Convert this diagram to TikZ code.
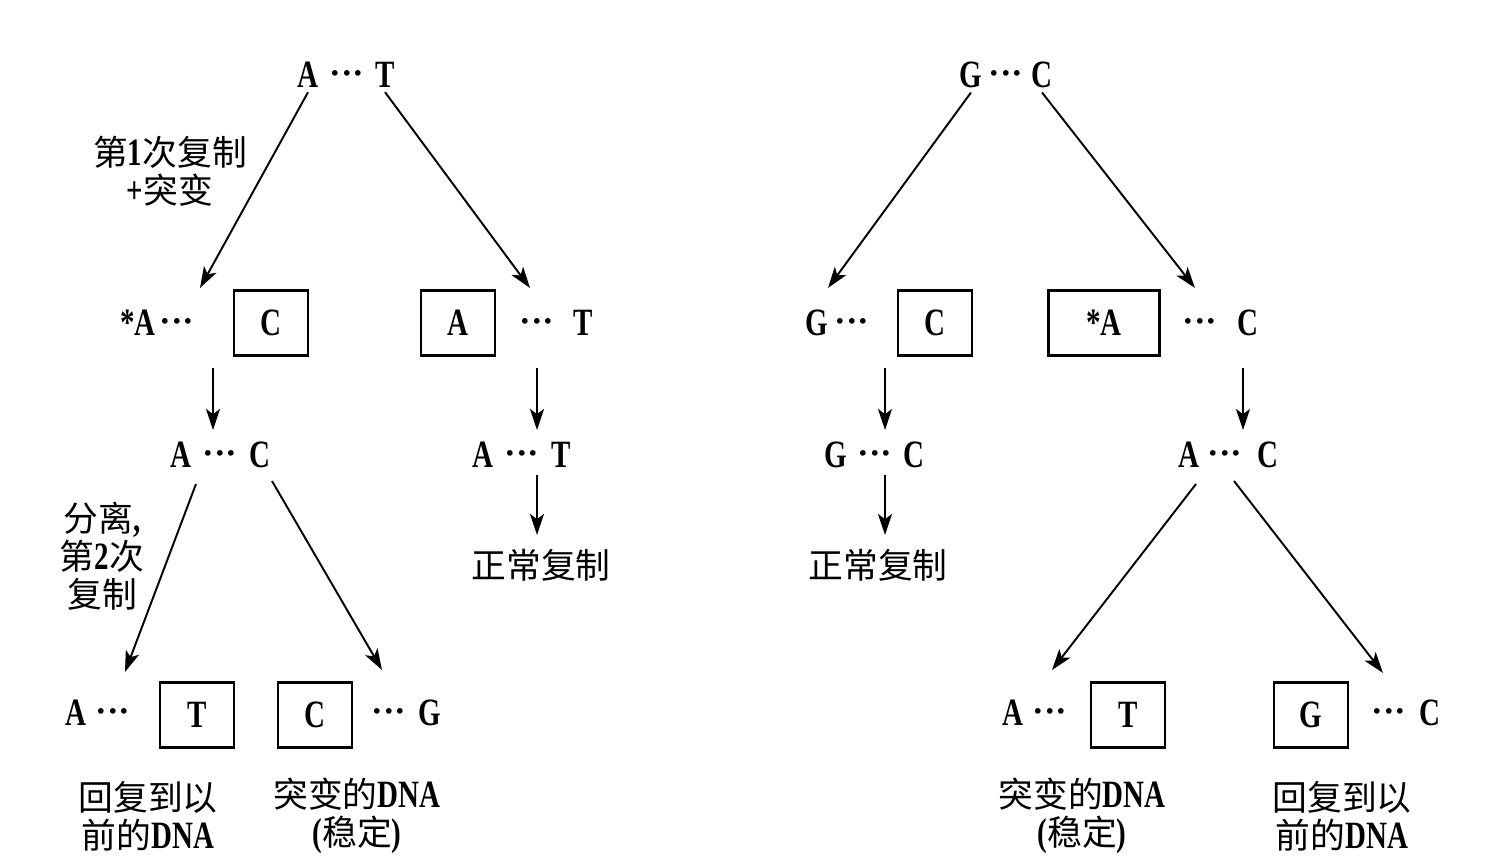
\documentclass[tikz,border=0pt]{standalone}
\usepackage{fontspec}
\setmainfont{Liberation Serif}[FakeStretch=0.75]
\newfontfamily\zhfont{Noto Sans CJK SC}[Scale=0.9]
\newcommand\zh[1]{{\zhfont\mdseries #1}}
\newcommand\pdots{{\boldmath${\cdot}{\cdot}{\cdot}$}}
\usetikzlibrary{arrows.meta}

\begin{document}
\begin{tikzpicture}[->,>={Stealth[length=12pt,width=8pt,inset=3pt]},line width=1.1pt,
   x=0.02cm,y=-0.02cm,
   base/.style={font=\fontsize{22}{26}\selectfont\bfseries,inner sep=2pt},
   box/.style={base,draw,line width=1.3pt,minimum width=1.48cm,minimum height=1.3cm},
   lbl/.style={font=\fontsize{22}{21.5}\selectfont\bfseries,align=center,inner sep=0pt}]
   \useasboundingbox (0,0) rectangle (1500,868);

   % left tree
   \node[base] (aA) at (308,75)  {A};
   \node[base] (aD) at (347,74)  {\pdots};
   \node[base] (aT) at (385,75)  {T};
   \node[lbl]  (aL) at (170,171) {\zh{第}1\zh{次复制}\\+\zh{突变}};

   \node[base] (bA) at (138,323) {*A};
   \node[base] (bD) at (177,322) {\pdots};
   \node[box]  (bC) at (271,323) {C};
   \node[box]  (cA) at (458,323) {A};
   \node[base] (cD) at (537,322) {\pdots};
   \node[base] (cT) at (583,323) {T};

   \node[base] (dA) at (181,455) {A};
   \node[base] (dD) at (220,454) {\pdots};
   \node[base] (dC) at (260,455) {C};
   \node[base] (eA) at (483,455) {A};
   \node[base] (eD) at (522,454) {\pdots};
   \node[base] (eT) at (561,455) {T};
   \node[lbl]  (eN) at (541,565) {\zh{正常复制}};
   \node[lbl]  (dL) at (102,556) {\zh{分离},\\\zh{第}2\zh{次}\\\zh{复制}};

   \node[base] (fA) at (76,713)  {A};
   \node[base] (fD) at (113,712) {\pdots};
   \node[box]  (fT) at (197,715) {T};
   \node[box]  (gC) at (315,715) {C};
   \node[base] (gD) at (389,712) {\pdots};
   \node[base] (gG) at (430,713) {G};
   \node[lbl]  (fL) at (148,816) {\zh{回复到以}\\\zh{前的}DNA};
   \node[lbl]  (gL) at (357,816) {\zh{突变的}DNA\\(\zh{稳定})};

   \coordinate (p1) at (200,288);
   \coordinate (p2) at (530,288);
   \coordinate (p3) at (213,368);
   \coordinate (p4) at (213,430);
   \coordinate (p5) at (537,368);
   \coordinate (p6) at (537,430);
   \coordinate (p7) at (537,475);
   \coordinate (p8) at (537,535);
   \coordinate (p9) at (196,484);
   \coordinate (p10) at (125,672);
   \coordinate (p11) at (272,481);
   \coordinate (p12) at (382,670);

   \path (aA.south) edge (p1);
   \path (aT.south) edge (p2);
   \path (p3) edge (p4);
   \path (p5) edge (p6);
   \path (p7) edge (p8);
   \path (p9) edge (p10);
   \path (p11) edge (p12);

   % right tree
   \node[base] (hG) at (971,75)  {G};
   \node[base] (hD) at (1006,74) {\pdots};
   \node[base] (hC) at (1042,75) {C};

   \node[base] (iG) at (817,323)  {G};
   \node[base] (iD) at (852,322)  {\pdots};
   \node[box]  (iC) at (935,323)  {C};
   \node[box,minimum width=2.22cm] (jA) at (1104,323) {*A};
   \node[base] (jD) at (1200,322) {\pdots};
   \node[base] (jC) at (1248,323) {C};

   \node[base] (kG) at (836,455)  {G};
   \node[base] (kD) at (875,454)  {\pdots};
   \node[base] (kC) at (914,455)  {C};
   \node[base] (mA) at (1189,455) {A};
   \node[base] (mD) at (1225,454) {\pdots};
   \node[base] (mC) at (1268,455) {C};
   \node[lbl]  (kN) at (878,565)  {\zh{正常复制}};

   \node[base] (nA) at (1013,713) {A};
   \node[base] (nD) at (1050,712) {\pdots};
   \node[box]  (nT) at (1128,715) {T};
   \node[box]  (oG) at (1311,715) {G};
   \node[base] (oD) at (1389,712) {\pdots};
   \node[base] (oC) at (1430,713) {C};
   \node[lbl]  (nL) at (1082,816) {\zh{突变的}DNA\\(\zh{稳定})};
   \node[lbl]  (oL) at (1342,816) {\zh{回复到以}\\\zh{前的}DNA};

   \coordinate (q1) at (828,288);
   \coordinate (q2) at (1195,288);
   \coordinate (q3) at (885,368);
   \coordinate (q4) at (885,430);
   \coordinate (q5) at (1243,368);
   \coordinate (q6) at (1243,430);
   \coordinate (q7) at (885,475);
   \coordinate (q8) at (885,535);
   \coordinate (q9) at (1196,484);
   \coordinate (q10) at (1052,670);
   \coordinate (q11) at (1234,481);
   \coordinate (q12) at (1383,673);

   \path (hG.south) edge (q1);
   \path (hC.south) edge (q2);
   \path (q3) edge (q4);
   \path (q5) edge (q6);
   \path (q7) edge (q8);
   \path (q9) edge (q10);
   \path (q11) edge (q12);

\end{tikzpicture}
\end{document}
